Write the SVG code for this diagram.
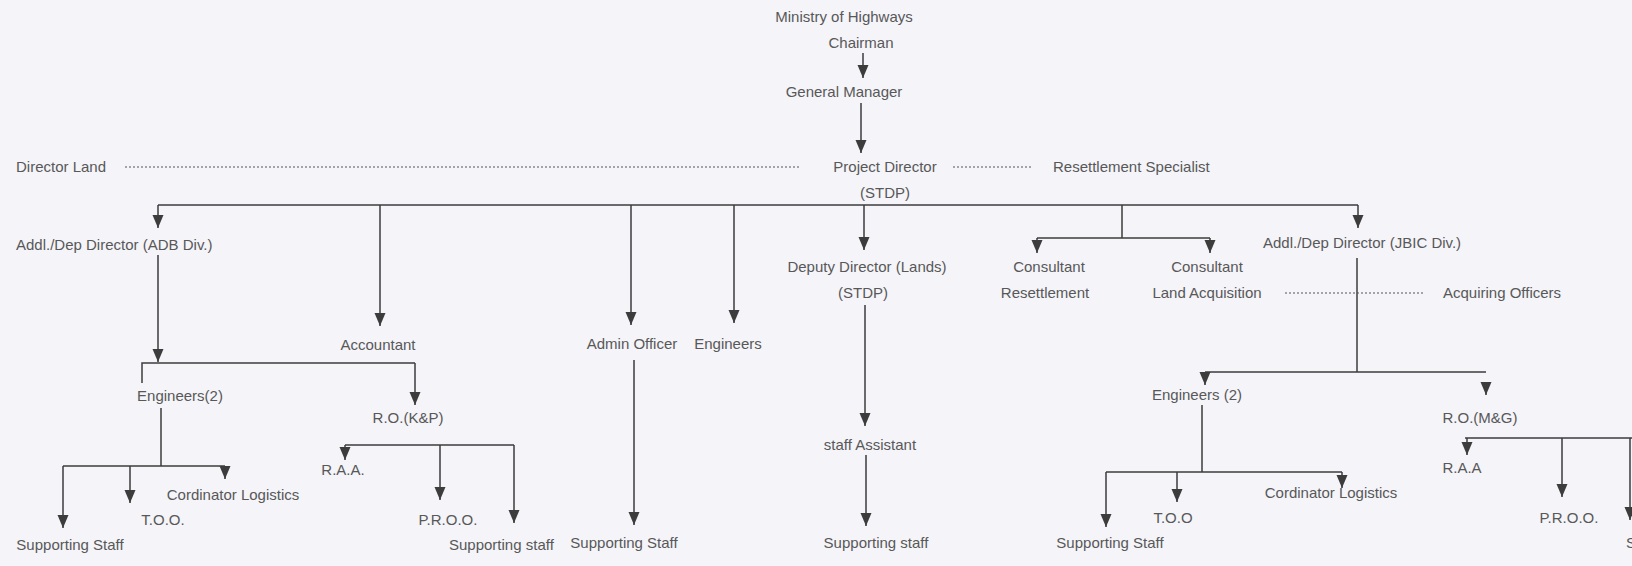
<svg xmlns="http://www.w3.org/2000/svg" width="1632" height="566" viewBox="0 0 1632 566">
<style>
text{font-family:"Liberation Sans",Arial,sans-serif;font-size:15px;fill:#585858}
.m{text-anchor:middle}
.ln{stroke:#3c3c3c;stroke-width:1.5;fill:none}
.ar{stroke:#3c3c3c;stroke-width:1.5;fill:none;marker-end:url(#ah)}
.dot{stroke:#555;stroke-width:1;stroke-dasharray:2 2;fill:none}
</style>
<defs>
<marker id="ah" markerUnits="userSpaceOnUse" markerWidth="14" markerHeight="12" refX="13" refY="6" orient="auto">
<path d="M0,0.5 L13,6 L0,11.5 Z" fill="#3c3c3c"/>
</marker>
</defs>
<rect width="1632" height="566" fill="#f4f4f9"/>
<g id="connectors">
<path class="ar" d="M863,53 V78"/>
<path class="ar" d="M861,103 V153"/>
<path class="dot" d="M125,167 H800"/>
<path class="dot" d="M953,167 H1032"/>
<path class="ln" d="M158,205 H1358"/>
<path class="ar" d="M158,205 V228"/>
<path class="ar" d="M380,205 V326"/>
<path class="ar" d="M631,205 V325"/>
<path class="ar" d="M734,205 V323"/>
<path class="ar" d="M864,205 V250"/>
<path class="ln" d="M1122,205 V238 M1037,238 H1210"/>
<path class="ar" d="M1037,238 V253"/>
<path class="ar" d="M1210,238 V253"/>
<path class="ar" d="M1358,205 V228"/>
<path class="ar" d="M158,255 V362"/>
<path class="ln" d="M142,383 V363 H415"/>
<path class="ar" d="M415,363 V405"/>
<path class="ln" d="M161,408 V466 M63,466 H225"/>
<path class="ar" d="M63,466 V528"/>
<path class="ar" d="M130,466 V503"/>
<path class="ar" d="M225,466 V479"/>
<path class="ln" d="M345,445 H514"/>
<path class="ar" d="M345,445 V460"/>
<path class="ar" d="M440,445 V500"/>
<path class="ar" d="M514,445 V523"/>
<path class="ar" d="M634,360 V525"/>
<path class="ar" d="M865,305 V426"/>
<path class="ar" d="M866,455 V526"/>
<path class="ln" d="M1357,258 V372 M1205,372 H1486"/>
<path class="dot" d="M1285,293 H1425"/>
<path class="ar" d="M1205,372 V385"/>
<path class="ar" d="M1486,382 V395"/>
<path class="ln" d="M1202,405 V472 M1106,472 H1342"/>
<path class="ar" d="M1106,472 V527"/>
<path class="ar" d="M1177,472 V502"/>
<path class="ar" d="M1342,472 V488"/>
<path class="ln" d="M1465,438 H1632"/>
<path class="ar" d="M1467,438 V455"/>
<path class="ar" d="M1562,438 V497"/>
<path class="ar" d="M1630,438 V520"/>
</g>
<g id="ministry"><text class="m" x="844" y="22">Ministry of Highways</text></g>
<g id="chairman"><text class="m" x="861" y="48">Chairman</text></g>
<g id="general-manager"><text class="m" x="844" y="97">General Manager</text></g>
<g id="director-land"><text x="16" y="172">Director Land</text></g>
<g id="project-director"><text class="m" x="885" y="172">Project Director</text><text class="m" x="885" y="198">(STDP)</text></g>
<g id="resettlement-specialist"><text x="1053" y="172">Resettlement Specialist</text></g>
<g id="adb-director"><text x="16" y="250">Addl./Dep Director (ADB Div.)</text></g>
<g id="accountant"><text class="m" x="378" y="350">Accountant</text></g>
<g id="admin-officer"><text class="m" x="632" y="349">Admin Officer</text></g>
<g id="engineers"><text class="m" x="728" y="349">Engineers</text></g>
<g id="deputy-director"><text class="m" x="867" y="272">Deputy Director (Lands)</text><text class="m" x="863" y="298">(STDP)</text></g>
<g id="consultant-resettlement"><text class="m" x="1049" y="272">Consultant</text><text class="m" x="1045" y="298">Resettlement</text></g>
<g id="consultant-land"><text class="m" x="1207" y="272">Consultant</text><text class="m" x="1207" y="298">Land Acquisition</text></g>
<g id="jbic-director"><text x="1263" y="248">Addl./Dep Director (JBIC Div.)</text></g>
<g id="acquiring-officers"><text x="1443" y="298">Acquiring Officers</text></g>
<g id="engineers2-adb"><text class="m" x="180" y="401">Engineers(2)</text></g>
<g id="ro-kp"><text class="m" x="408" y="423">R.O.(K&amp;P)</text></g>
<g id="coordinator-adb"><text class="m" x="233" y="500">Cordinator Logistics</text></g>
<g id="too-adb"><text class="m" x="163" y="525">T.O.O.</text></g>
<g id="support-adb"><text class="m" x="70" y="550">Supporting Staff</text></g>
<g id="raa-kp"><text class="m" x="343" y="475">R.A.A.</text></g>
<g id="proo-kp"><text class="m" x="448" y="525">P.R.O.O.</text></g>
<g id="support-kp"><text x="449" y="550">Supporting staff</text></g>
<g id="support-admin"><text class="m" x="624" y="548">Supporting Staff</text></g>
<g id="staff-assistant"><text class="m" x="870" y="450">staff Assistant</text></g>
<g id="support-deputy"><text class="m" x="876" y="548">Supporting staff</text></g>
<g id="engineers2-jbic"><text class="m" x="1197" y="400">Engineers (2)</text></g>
<g id="ro-mg"><text class="m" x="1480" y="423">R.O.(M&amp;G)</text></g>
<g id="coordinator-jbic"><text class="m" x="1331" y="498">Cordinator Logistics</text></g>
<g id="too-jbic"><text class="m" x="1173" y="523">T.O.O</text></g>
<g id="support-jbic"><text class="m" x="1110" y="548">Supporting Staff</text></g>
<g id="raa-mg"><text class="m" x="1462" y="473">R.A.A</text></g>
<g id="proo-mg"><text class="m" x="1569" y="523">P.R.O.O.</text></g>
<g id="support-mg"><text x="1626" y="548">Supporting staff</text></g>
</svg>
